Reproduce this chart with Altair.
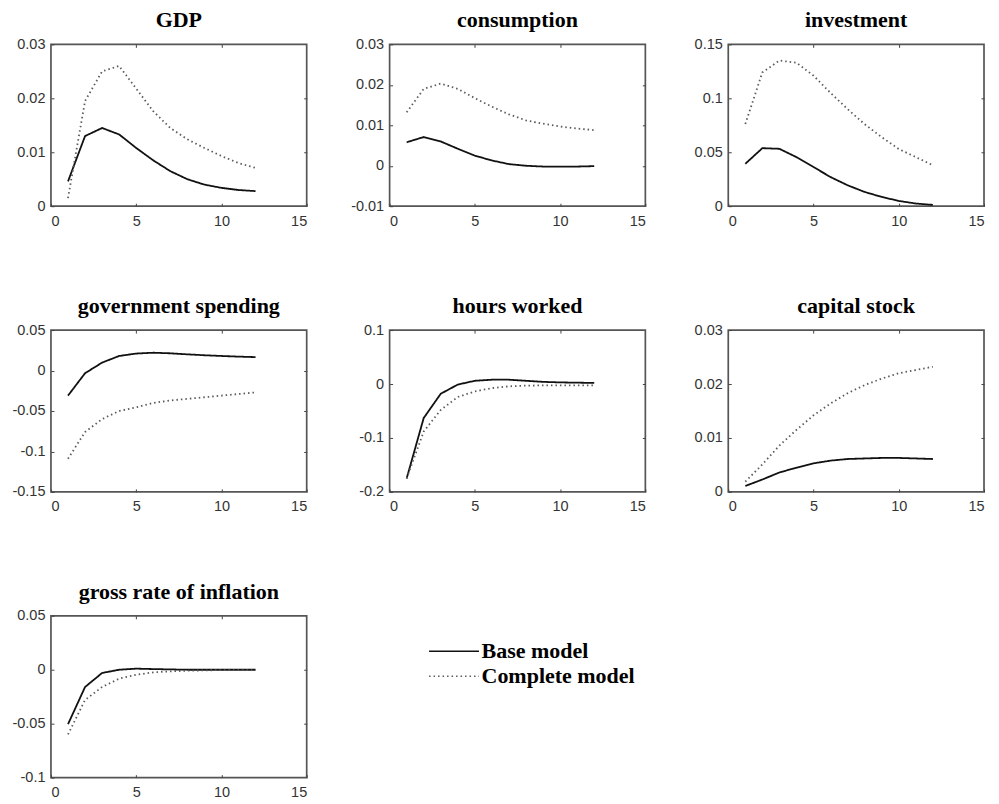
import altair as alt
import pandas as pd

steps = list(range(1, 13))
series_names = ["Base model", "Complete model"]

gdp_base = [0.0046, 0.0130, 0.0145, 0.0133, 0.0108, 0.0085, 0.0065, 0.0050, 0.0040, 0.0034, 0.0030, 0.0028]
gdp_comp = [0.0015, 0.0195, 0.0250, 0.0260, 0.0218, 0.0176, 0.0145, 0.0124, 0.0108, 0.0093, 0.0080, 0.0071]

cons_base = [0.0058, 0.0071, 0.0060, 0.0042, 0.0025, 0.0013, 0.0004, 0.0000, -0.0002, -0.0002, -0.0002, -0.0001]
cons_comp = [0.0132, 0.0190, 0.0203, 0.0190, 0.0167, 0.0146, 0.0127, 0.0112, 0.0104, 0.0097, 0.0092, 0.0088]

inv_base = [0.0393, 0.0538, 0.0532, 0.0455, 0.0363, 0.0270, 0.0194, 0.0132, 0.0086, 0.0049, 0.0025, 0.0012]
inv_comp = [0.0762, 0.1240, 0.1350, 0.1330, 0.1210, 0.1050, 0.0900, 0.0760, 0.0640, 0.0530, 0.0455, 0.0380]

gov_base = [-0.0310, -0.0033, 0.0098, 0.0180, 0.0210, 0.0220, 0.0213, 0.0200, 0.0189, 0.0180, 0.0172, 0.0166]
gov_comp = [-0.1090, -0.0760, -0.0600, -0.0500, -0.0455, -0.0400, -0.0370, -0.0350, -0.0330, -0.0310, -0.0290, -0.0270]

hours_base = [-0.1750, -0.0630, -0.0180, -0.0010, 0.0060, 0.0080, 0.0080, 0.0060, 0.0040, 0.0030, 0.0025, 0.0020]
hours_comp = [-0.1750, -0.0880, -0.0480, -0.0240, -0.0137, -0.0075, -0.0043, -0.0030, -0.0025, -0.0025, -0.0025, -0.0025]

cap_base = [0.0011, 0.0023, 0.0036, 0.0045, 0.0053, 0.0058, 0.0061, 0.0062, 0.0063, 0.0063, 0.0062, 0.0061]
cap_comp = [0.0019, 0.0051, 0.0086, 0.0115, 0.0142, 0.0164, 0.0183, 0.0198, 0.0210, 0.0220, 0.0226, 0.0232]

infl_base = [-0.0505, -0.0160, -0.0030, 0.0000, 0.0010, 0.0006, 0.0003, 0.0000, 0.0000, 0.0000, 0.0000, 0.0000]
infl_comp = [-0.0600, -0.0280, -0.0160, -0.0083, -0.0046, -0.0025, -0.0015, -0.0009, -0.0006, -0.0003, -0.0003, -0.0003]

titles = ["GDP", "consumption", "investment", "government spending",
          "hours worked", "capital stock", "gross rate of inflation"]
y_domains = [[0, 0.03], [-0.01, 0.03], [0, 0.15], [-0.15, 0.05],
             [-0.2, 0.1], [0, 0.03], [-0.1, 0.05]]
y_ticks = [[0, 0.01, 0.02, 0.03], [-0.01, 0, 0.01, 0.02, 0.03], [0, 0.05, 0.1, 0.15],
           [-0.15, -0.1, -0.05, 0, 0.05], [-0.2, -0.1, 0, 0.1], [0, 0.01, 0.02, 0.03],
           [-0.1, -0.05, 0, 0.05]]
x_ticks = [0, 5, 10, 15]
data_pairs = [(gdp_base, gdp_comp), (cons_base, cons_comp), (inv_base, inv_comp),
              (gov_base, gov_comp), (hours_base, hours_comp), (cap_base, cap_comp),
              (infl_base, infl_comp)]

LABEL_FONT = "Liberation Sans"
TITLE_FONT = "Liberation Serif"
LABEL_SIZE = 14.5
LABEL_COLOR = "#333333"
TICK_COLOR = "#444444"

legend = alt.Legend(
    title=None, orient="none", legendX=390, legendY=594,
    symbolType="M-2,0L2,0", symbolSize=625, symbolStrokeWidth=1.6,
    labelFont=TITLE_FONT, labelFontSize=22, labelFontWeight="bold",
    labelColor="black", labelOffset=14, rowPadding=0, symbolOpacity=1,
)
color_scale = alt.Scale(domain=series_names, range=["#111111", "#5a5a5a"])
dash_scale = alt.Scale(domain=series_names, range=[[1, 0], [1.5, 3]])


def axis(orient, values, labels=True, pad=6, **kw):
    return alt.Axis(
        orient=orient, values=values, title=None, offset=-3, tickSize=3,
        labelPadding=pad, domain=False, grid=False, tickColor=TICK_COLOR,
        labels=labels, labelFont=LABEL_FONT, labelFontSize=LABEL_SIZE,
        labelColor=LABEL_COLOR, **kw)


def make_panel(title, base, comp, dom, yt):
    df = pd.DataFrame({
        "t": steps * 2,
        "v": base + comp,
        "series": [series_names[0]] * len(base) + [series_names[1]] * len(comp),
    })
    xs = alt.Scale(domain=[0, 15], nice=False)
    ys = alt.Scale(domain=dom, nice=False, zero=False)
    lines = alt.Chart(df).mark_line(strokeWidth=1.8).encode(
        x=alt.X("t:Q", scale=xs, axis=axis("bottom", x_ticks, pad=8)),
        y=alt.Y("v:Q", scale=ys, axis=axis("left", yt, labelExpr="datum.value + ''",
                                           minExtent=42, maxExtent=42)),
        color=alt.Color("series:N", scale=color_scale, legend=legend),
        strokeDash=alt.StrokeDash("series:N", scale=dash_scale, legend=legend),
    )
    frame = alt.Chart(df).mark_line(opacity=0).encode(
        x=alt.X("t:Q", scale=xs, axis=axis("top", x_ticks[1:-1], labels=False,
                                           minExtent=0, maxExtent=0)),
        y=alt.Y("v:Q", scale=ys, axis=axis("right", yt[1:-1], labels=False,
                                           minExtent=0, maxExtent=0)),
    )
    return alt.layer(lines, frame).resolve_axis(x="independent", y="independent").properties(
        width=256, height=162,
        title=alt.TitleParams(title, font=TITLE_FONT, fontSize=22, fontWeight="bold",
                              color="black", anchor="middle", offset=4),
    )


panels = [make_panel(t, b, c, d, yt) for t, (b, c), d, yt in zip(titles, data_pairs, y_domains, y_ticks)]

row1 = alt.hconcat(*panels[0:3], spacing=41)
row2 = alt.hconcat(*panels[3:6], spacing=41)
row3 = alt.hconcat(panels[6], spacing=41)

chart = alt.vconcat(row1, row2, row3, spacing=65).configure_view(
    stroke="#555555", strokeWidth=1.7
).properties(background="white", padding={"left": 3, "top": 0, "right": 5, "bottom": 5})

chart.save("out.html", embed_options={"renderer": "svg", "actions": False})
